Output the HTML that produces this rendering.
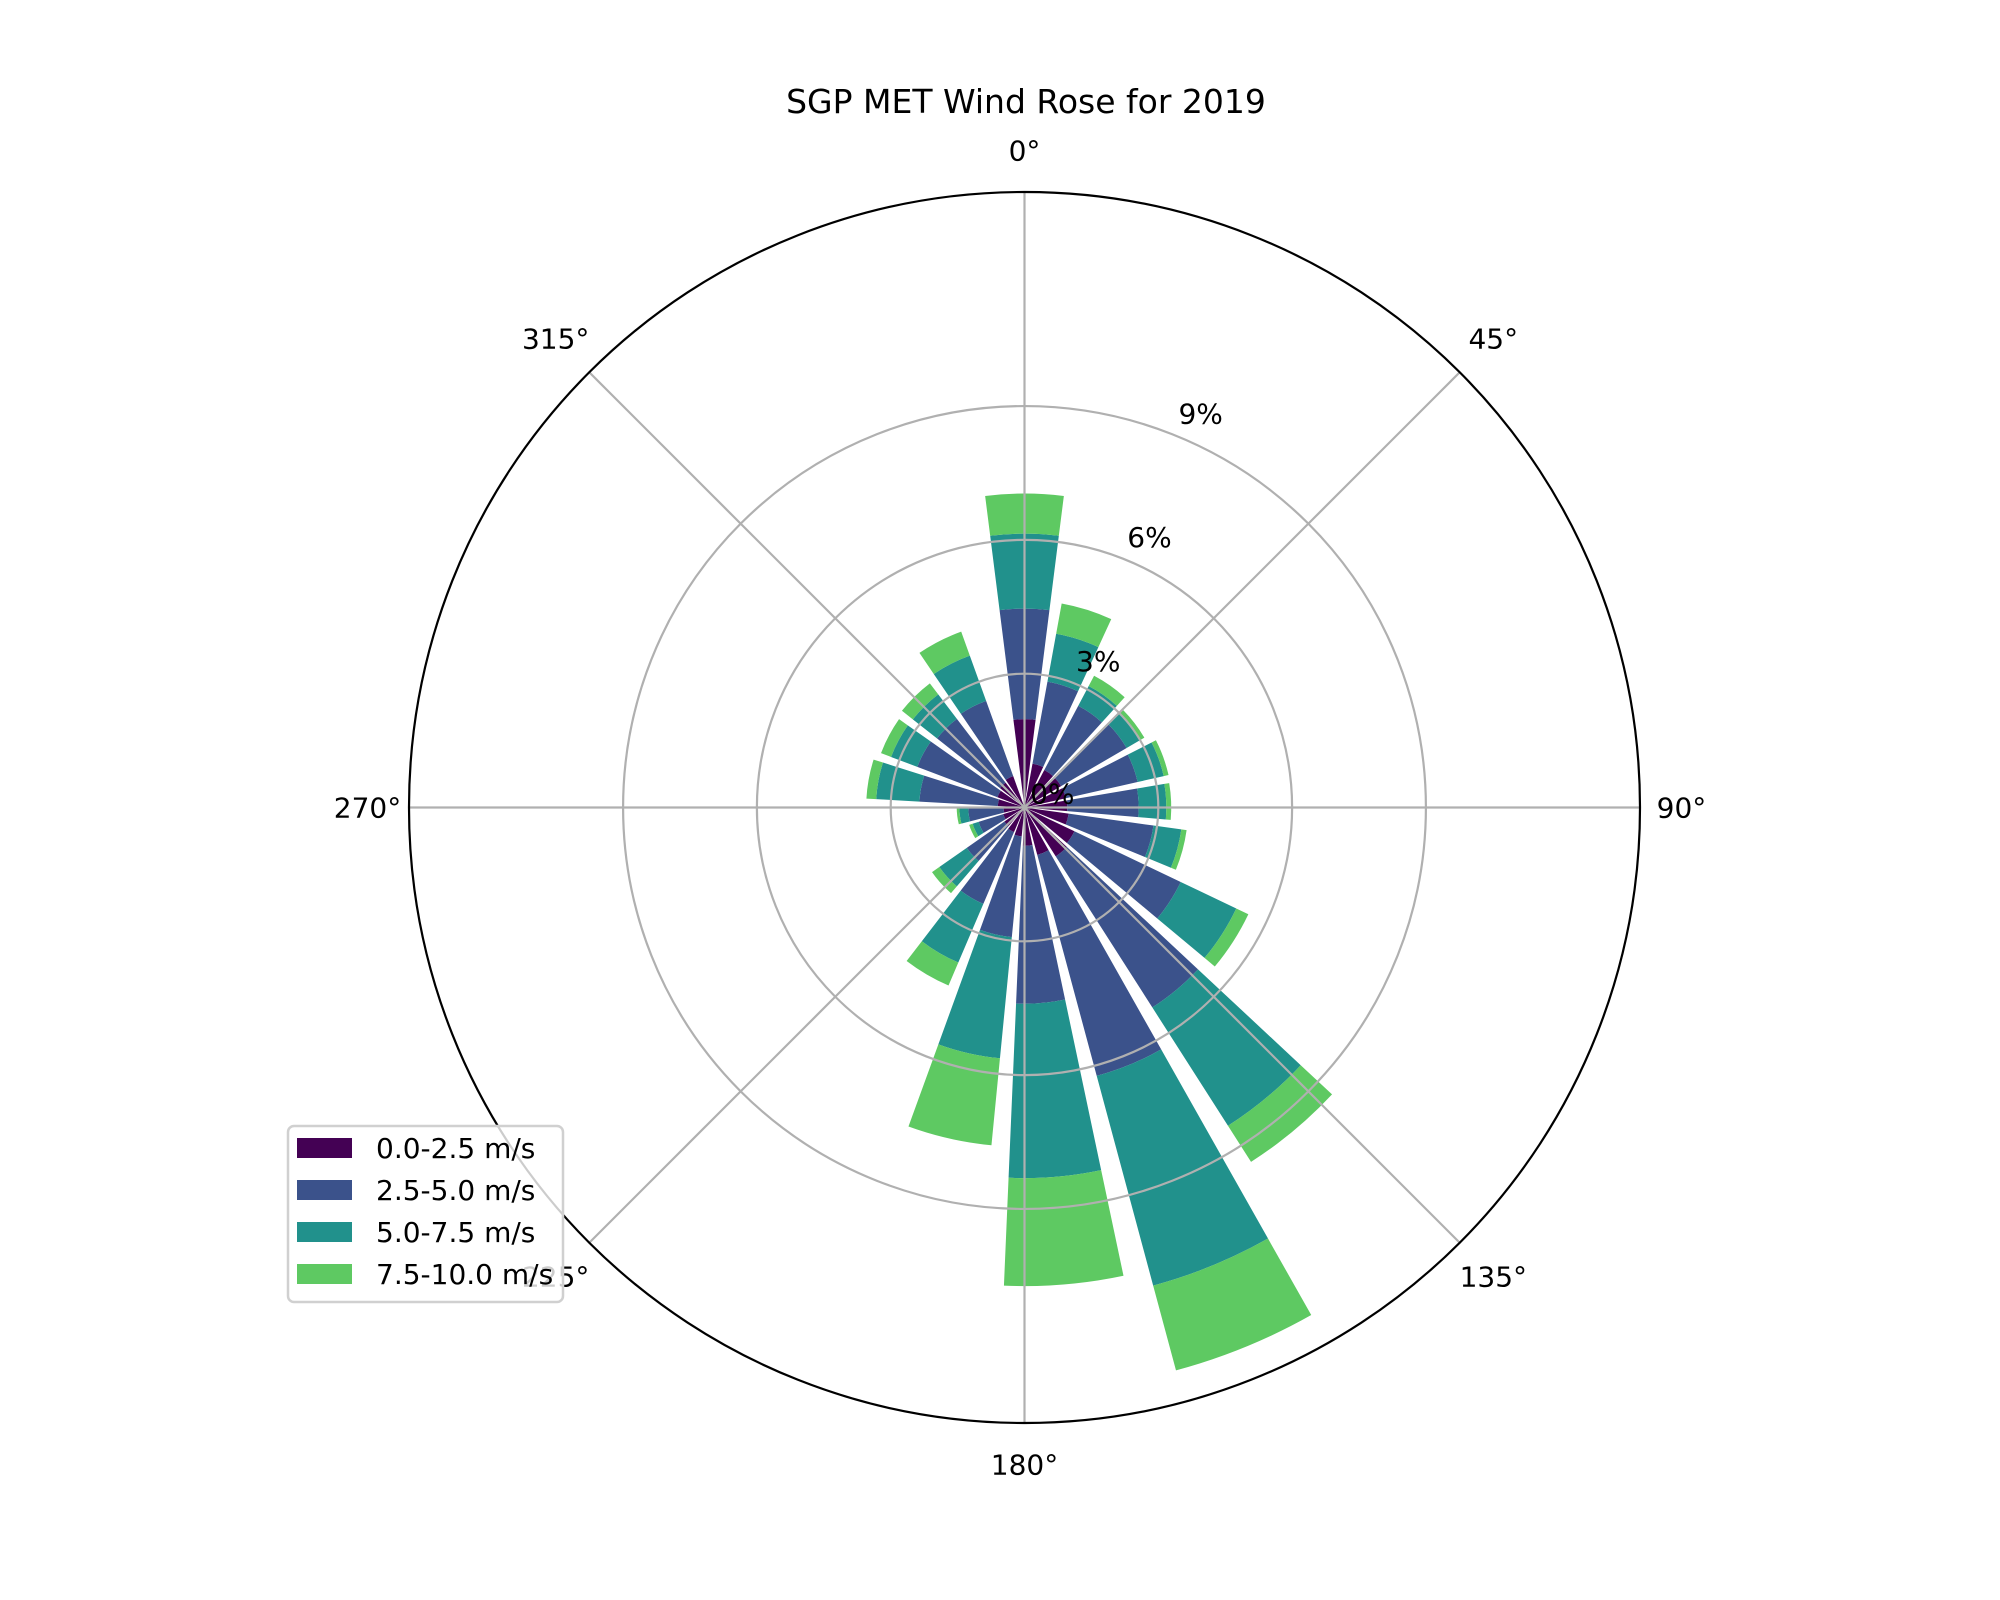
<!DOCTYPE html>
<html><head><meta charset="utf-8"><style>
html,body{margin:0;padding:0;background:#fff;}
svg{display:block;font-family:"DejaVu Sans","Liberation Sans",sans-serif;}
</style></head><body>
<svg id="chart" width="2000" height="1600" viewBox="0 0 2000 1600" xmlns="http://www.w3.org/2000/svg">
<rect width="2000" height="1600" fill="#fff"/>
<text x="1026" y="113" font-size="33" text-anchor="middle">SGP MET Wind Rose for 2019</text>
<g id="bars"></g>
<g id="grid"></g>
<g id="labels"></g>
<g>
<rect x="288" y="1126" width="275" height="176" rx="6" fill="#fff" fill-opacity="0.8" stroke="#d0d0d0" stroke-width="2.5"/>
<g id="legend-items"></g>
</g>
</svg>
<script>
const speedBins = ["0.0-2.5 m/s","2.5-5.0 m/s","5.0-7.5 m/s","7.5-10.0 m/s"];
const colors = ["#440154","#3b528b","#21918c","#5ec962"];
// cumulative percent (top of each stacked segment) per direction index
const speed1 = [1.98,1.00,0.95,0.95,0.95,0.96,1.00,1.24,1.30,1.10,0.86,0.65,0.60,0.55,0.50,0.47,0.60,0.65,0.70,0.75];
const speed2 = [4.46,2.87,2.58,2.65,2.60,2.56,2.92,3.88,5.32,6.23,4.40,2.92,2.35,1.58,1.08,1.26,2.36,2.57,2.50,2.54];
const speed3 = [6.14,3.96,3.08,3.00,3.20,3.18,3.55,5.26,8.47,11.10,8.31,5.65,3.78,2.33,1.22,1.46,3.33,3.20,3.19,3.62];
const speed4 = [7.04,4.65,3.34,3.11,3.31,3.29,3.67,5.56,9.43,13.07,10.73,7.61,4.34,2.53,1.30,1.52,3.55,3.44,3.50,4.19];
const rTicks = [3,6,9];
const thetaTicks = [0,45,90,135,180,225,270,315];
const numDirs = 20;

const NS="http://www.w3.org/2000/svg";
const cx=1024.5, cy=807.5, R=615.5, rMax=13.8;
const degW=360/numDirs;
const mids=[]; for(let i=0;i<numDirs;i++) mids.push(i*(360-1.5*degW)/(numDirs-1));
const barW=0.8*degW;
function rs(v){return v/rMax*R;}
function pt(r,deg){const a=deg*Math.PI/180;return [cx+r*Math.sin(a), cy-r*Math.cos(a)];}
function sector(r0,r1,a0,a1){
  const p1=pt(r1,a0),p2=pt(r1,a1);
  let d=`M${p1[0]},${p1[1]} A${r1},${r1} 0 0 1 ${p2[0]},${p2[1]} `;
  if(r0>0){const p3=pt(r0,a1),p4=pt(r0,a0);d+=`L${p3[0]},${p3[1]} A${r0},${r0} 0 0 0 ${p4[0]},${p4[1]} Z`;}
  else d+=`L${cx},${cy} Z`;
  return d;
}
const series=[speed1,speed2,speed3,speed4];
const bars=document.getElementById('bars');
for(let i=0;i<numDirs;i++){
  let prev=0;
  for(let s=0;s<4;s++){
    const top=series[s][i];
    const p=document.createElementNS(NS,'path');
    p.setAttribute('d',sector(rs(prev),rs(top),mids[i]-barW/2,mids[i]+barW/2));
    p.setAttribute('fill',colors[s]);
    
    
    bars.appendChild(p);
    prev=top;
  }
}
const grid=document.getElementById('grid');
rTicks.forEach(t=>{
  const c=document.createElementNS(NS,'circle');
  c.setAttribute('cx',cx);c.setAttribute('cy',cy);c.setAttribute('r',rs(t));
  c.setAttribute('fill','none');c.setAttribute('stroke','#b0b0b0');c.setAttribute('stroke-width','2.2');
  
  
  grid.appendChild(c);
});
thetaTicks.forEach(t=>{
  const p=pt(R,t);
  const l=document.createElementNS(NS,'line');
  l.setAttribute('x1',cx);l.setAttribute('y1',cy);l.setAttribute('x2',p[0]);l.setAttribute('y2',p[1]);
  l.setAttribute('stroke','#b0b0b0');l.setAttribute('stroke-width','2.2');
  
  
  grid.appendChild(l);
});
const oc=document.createElementNS(NS,'circle');
oc.setAttribute('cx',cx);oc.setAttribute('cy',cy);oc.setAttribute('r',R);
oc.setAttribute('fill','none');oc.setAttribute('stroke','#000');oc.setAttribute('stroke-width','2.2');


grid.appendChild(oc);

const labels=document.getElementById('labels');
thetaTicks.forEach(t=>{
  const rr=(t%90===0)?657:663;
  const p=pt(rr,t);
  const tx=document.createElementNS(NS,'text');
  tx.setAttribute('x',p[0]);tx.setAttribute('y',p[1]+10);
  tx.setAttribute('font-size','28');tx.setAttribute('text-anchor','middle');
  tx.textContent=t+'°';
  
  
  labels.appendChild(tx);
});
const rLabelTicks=[0].concat(rTicks);
rLabelTicks.forEach(t=>{
  const p=pt(rs(t)+(t===0?10:25),22.5);
  const tx=document.createElementNS(NS,'text');
  tx.setAttribute('x',p[0]+(t===0?24:13));tx.setAttribute('y',p[1]+10+(t===0?-5:0));
  tx.setAttribute('font-size','28');tx.setAttribute('text-anchor','middle');
  tx.textContent=t+'%';
  
  
  labels.appendChild(tx);
});
const li=document.getElementById('legend-items');
speedBins.forEach((s,k)=>{
  const y=1148+k*42;
  const r=document.createElementNS(NS,'rect');
  r.setAttribute('x',297);r.setAttribute('y',y-10);r.setAttribute('width',55);r.setAttribute('height',20);
  r.setAttribute('fill',colors[k]);
  
  
  li.appendChild(r);
  const tx=document.createElementNS(NS,'text');
  tx.setAttribute('x',376);tx.setAttribute('y',y+10);tx.setAttribute('font-size','28');
  tx.textContent=s;
  
  
  li.appendChild(tx);
});
</script>
</body></html>
